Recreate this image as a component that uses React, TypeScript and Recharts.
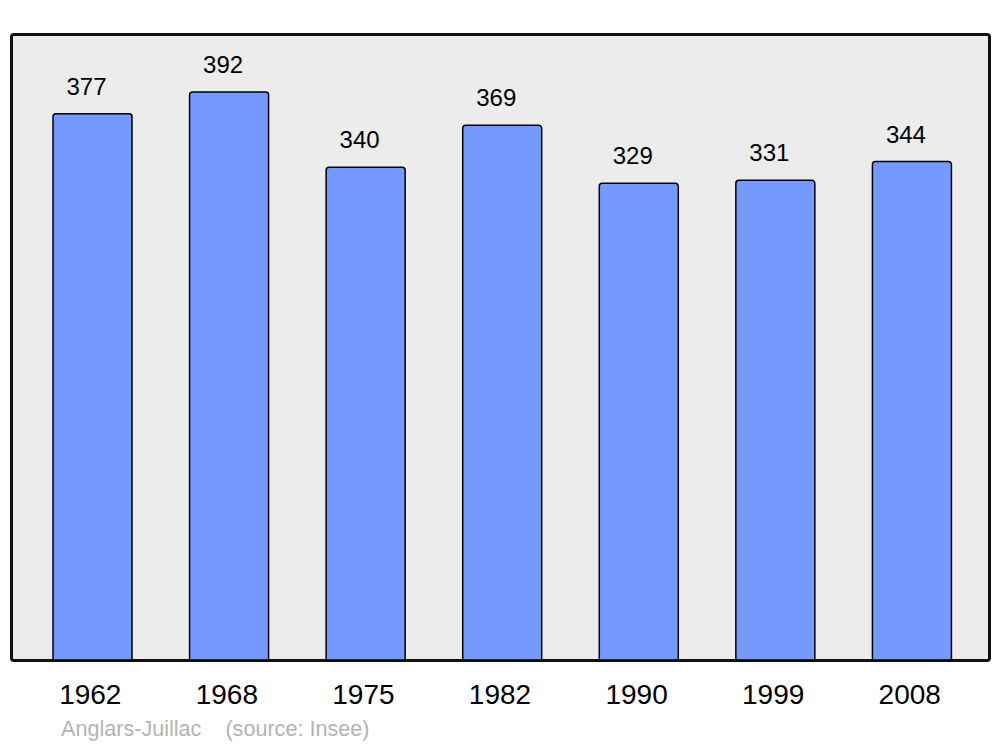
import { Bar, BarChart, LabelList, XAxis, YAxis } from 'recharts';

const years = ['1962', '1968', '1975', '1982', '1990', '1999', '2008'];
const population = [377, 392, 340, 369, 329, 331, 344];
const town = 'Anglars-Juillac';
const source = '(source: Insee)';

const data = years.map((year, i) => ({ year, value: population[i] }));

const FONT = '"Liberation Sans", Arial, sans-serif';

function YearTick({ x, y, payload }: any) {
    return (
        <text x={x - 2} y={y} dy={36} textAnchor="middle" fontSize={28} fontFamily={FONT} fill="#000">
            {payload.value}
        </text>
    );
}

function ValueLabel({ x, y, width, value }: any) {
    return (
        <text x={x + width / 2 - 6} y={y - 19} textAnchor="middle" fontSize={24} fontFamily={FONT} fill="#000">
            {value}
        </text>
    );
}

export default function App() {
    return (
        <div style={{ position: 'fixed', left: 0, top: 0, width: 1000, height: 747, background: '#fff' }}>
            <div
                style={{
                    position: 'absolute',
                    left: 10,
                    top: 33,
                    width: 975,
                    height: 623,
                    border: '3px solid #111',
                    borderRadius: 4,
                    background: '#ececec',
                }}
            />
            <div style={{ position: 'absolute', left: 0, top: 0 }}>
                <BarChart
                    width={1000}
                    height={747}
                    data={data}
                    margin={{ top: 34, right: 11, left: 11, bottom: 0 }}
                >
                    <XAxis
                        dataKey="year"
                        height={87}
                        axisLine={false}
                        tickLine={false}
                        padding={{ left: 13, right: 9 }}
                        tick={<YearTick />}
                        interval={0}
                    />
                    <YAxis hide domain={[0, 432]} />
                    <Bar
                        dataKey="value"
                        barSize={79}
                        fill="#7499ff"
                        stroke="#000"
                        strokeWidth={1.5}
                        radius={[3, 3, 0, 0]}
                        isAnimationActive={false}
                    >
                        <LabelList dataKey="value" content={<ValueLabel />} />
                    </Bar>
                </BarChart>
            </div>
            <div
                style={{
                    position: 'absolute',
                    left: 61,
                    top: 716,
                    fontFamily: FONT,
                    fontSize: 21.6,
                    color: '#b3b3b3',
                    whiteSpace: 'pre',
                }}
            >
                {town + '    ' + source}
            </div>
        </div>
    );
}
